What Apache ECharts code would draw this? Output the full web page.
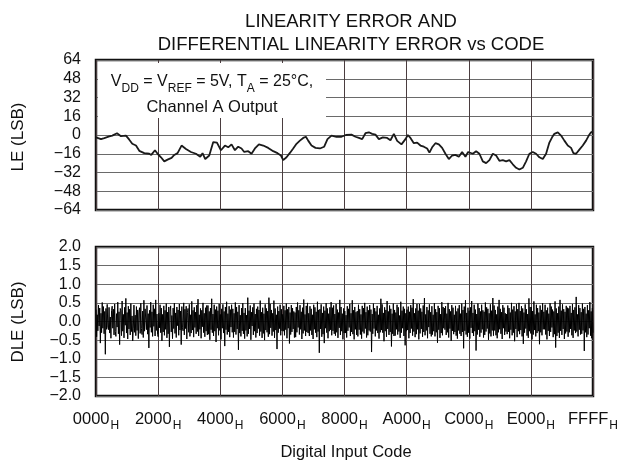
<!DOCTYPE html>
<html>
<head>
<meta charset="utf-8">
<script src="https://cdn.jsdelivr.net/npm/echarts@6/dist/echarts.min.js"></script>
<style>html,body{margin:0;padding:0;background:#fff}#c{width:621px;height:467px}</style>
</head>
<body>
<div id="c"></div>
<script>
// ---- data ----
const xTickLabels = ['0000','2000','4000','6000','8000','A000','C000','E000','FFFF'];
const leTicks = [-64,-48,-32,-16,0,16,32,48,64];
const dleTicks = [-2.0,-1.5,-1.0,-0.5,0.0,0.5,1.0,1.5,2.0];

const leCodes = [0,659,1094,1753,2148,2768,3295,3954,4389,4784,5272,5707,6366,7025,7289,7776,8119,8567,9002,9437,
9964,10320,10755,11282,11862,12521,13180,13747,14050,14406,14933,15460,15948,16475,
17002,17437,17872,18320,18755,19190,19546,20073,20508,20956,21483,22050,22709,23368,23935,24383,24686,25121,25569,26004,
26439,26887,27322,27678,27981,28416,28943,29523,30090,30525,31052,31711,32370,32950,
33688,34215,34663,35098,35533,35981,36416,36851,37299,37827,38393,38828,39276,39711,40278,40805,41122,41464,41912,42347,
42782,43230,43665,43968,44324,44759,45207,45642,46077,46525,46960,47395,47843,48278,48713,49069,
49689,50123,50558,51007,51442,51876,52325,52760,53194,53643,54078,54512,54961,55396,55830,56279,56714,57148,57597,58032,
58466,58915,59350,59784,60140,60443,60892,61326,61761,62210,62645,62948,63304,63739,64187,64622,64978,65281,65535];

const leValues = [-2,-3.5,-2.6,-1.2,-0.5,1.5,-1,-0.5,-4,-7.5,-9,-13.5,-15.5,-16,-17,-13,-16,-19,-22.5,-21,
-19.5,-17,-15.5,-9,-12,-14.5,-16,-18.5,-15.5,-20.5,-17.5,-6,-6.5,-13,
-9,-10.5,-8,-13,-10,-11.5,-14.5,-13.8,-16,-11.5,-8,-9,-11,-13.8,-15.5,-17.5,-21.5,-19,-15.3,-11.5,
-7.5,-4.8,-2.5,-1.5,-4.8,-9,-11,-11.5,-10,-3.5,-0.5,-1.5,-1.5,0,
0.3,-1.5,-2.5,-3.5,1.5,2.3,1,0.3,-3.5,-2,-2.5,-4.5,1,-5,-8,-3.5,0,-2.5,-7,-6.5,
-9,-10,-11.5,-15,-10.5,-7,-8,-11,-16,-20.5,-17.5,-17,-18.5,-14.5,-18.5,-14.5,
-16,-13.8,-16,-22.5,-24,-21.5,-16,-17.5,-22,-21.5,-22.5,-21.5,-25,-28,-29.5,-28,-22.5,-16,-14.5,-16,
-19,-20.5,-16,-6.5,-2,1,2.3,-0.5,-4.8,-9,-11,-15.5,-16,-12.5,-9,-4.8,-0.5,2.3,3];

const dleValues = [
0.32,-0.41,0.18,-0.25,0.44,-0.12,0.36,-0.58,0.22,-0.30,0.51,-0.18,0.40,-0.33,0.27,-0.88,0.35,-0.21,0.46,-0.15,
-0.22,0.38,-0.31,0.12,-0.45,0.29,0.41,-0.18,0.33,-0.36,0.47,-0.27,-0.40,0.21,-0.15,0.52,-0.33,0.26,-0.62,0.35,
0.29,-0.38,0.55,-0.26,0.19,-0.44,0.38,-0.10,0.62,-0.31,0.24,-0.47,0.41,-0.20,0.33,-0.36,0.48,-0.27,0.15,-0.52,
-0.20,0.44,-0.29,0.17,-0.38,0.40,-0.24,0.31,-0.46,0.23,0.37,-0.32,0.49,-0.19,-0.35,0.28,-0.43,0.57,-0.26,0.34,
0.37,-0.22,0.43,-0.34,0.21,-0.71,0.30,-0.16,0.52,-0.29,0.26,-0.40,0.45,-0.13,0.34,-0.39,0.58,-0.24,0.20,-0.35,
-0.41,0.22,-0.17,0.45,-0.30,0.36,-0.52,0.19,-0.28,0.42,-0.37,0.30,-0.21,0.48,-0.44,0.25,-0.33,0.39,-0.68,0.27,
0.42,-0.28,0.16,-0.46,0.36,-0.19,0.49,-0.32,0.23,-0.43,0.39,-0.11,0.31,-0.37,0.47,-0.23,0.28,-0.62,0.40,-0.17,
-0.25,0.50,-0.36,0.33,-0.19,0.41,-0.47,0.24,0.35,-0.29,0.46,-0.40,0.18,-0.31,0.54,-0.23,0.30,-0.42,0.38,-0.16,
0.25,-0.33,0.44,-0.27,0.60,-0.39,0.18,-0.21,0.35,-0.45,0.30,-0.14,0.50,-0.30,0.22,-0.41,0.37,-0.26,0.43,-0.36,
0.43,-0.34,0.27,-0.49,0.36,-0.22,0.61,-0.30,0.20,-0.39,0.45,-0.26,0.32,-0.55,0.40,-0.18,0.29,-0.37,0.47,-0.24,
0.19,-0.48,0.34,-0.18,0.46,-0.31,0.27,-0.66,0.39,-0.22,0.53,-0.35,0.21,-0.28,0.41,-0.42,0.32,-0.15,0.45,-0.29,
0.34,-0.43,0.22,-0.28,0.51,-0.35,0.39,-0.20,0.26,-0.76,0.44,-0.31,0.17,-0.40,0.36,-0.25,0.49,-0.33,0.23,-0.46,
0.36,-0.24,0.17,-0.40,0.64,-0.33,0.29,-0.20,0.43,-0.49,0.25,-0.12,0.38,-0.36,0.48,-0.26,0.20,-0.43,0.34,-0.31,
0.40,-0.19,0.31,-0.38,0.56,-0.27,0.25,-0.44,0.37,-0.32,0.21,-0.50,0.46,-0.23,0.35,-0.29,0.28,-0.41,0.64,-0.34,
0.47,-0.17,0.31,-0.38,0.22,-0.27,0.56,-0.44,0.35,-0.23,0.18,-0.74,0.40,-0.30,0.28,-0.19,0.45,-0.37,0.33,-0.25,
0.19,-0.26,0.42,-0.37,0.30,-0.22,0.48,-0.45,0.33,-0.18,0.39,-0.59,0.24,-0.35,0.44,-0.28,0.36,-0.20,0.27,-0.43,
0.24,-0.42,0.39,-0.29,0.51,-0.16,0.30,-0.35,0.44,-0.21,0.26,-0.47,0.37,-0.32,0.59,-0.24,0.19,-0.39,0.42,-0.28,
0.50,-0.31,0.22,-0.39,0.41,-0.24,0.34,-0.36,0.18,-0.47,0.45,-0.21,0.38,-0.30,0.26,-0.42,0.53,-0.27,0.31,-0.84,
0.33,-0.20,0.46,-0.41,0.23,-0.34,0.40,-0.58,0.29,-0.18,0.49,-0.30,0.35,-0.45,0.21,-0.26,0.38,-0.22,0.52,-0.37,
0.37,-0.25,0.43,-0.33,0.20,-0.38,0.47,-0.29,0.32,-0.44,0.24,-0.17,0.58,-0.36,0.39,-0.26,0.21,-0.48,0.35,-0.31,
0.28,-0.31,0.17,-0.43,0.41,-0.25,0.34,-0.16,0.47,-0.39,0.22,-0.28,0.57,-0.34,0.30,-0.48,0.39,-0.21,0.25,-0.36,
0.28,-0.40,0.45,-0.22,0.33,-0.35,0.19,-0.46,0.42,-0.27,0.36,-0.32,0.50,-0.19,0.25,-0.43,0.40,-0.37,0.30,-0.24,
0.44,-0.27,0.32,-0.82,0.20,-0.33,0.48,-0.19,0.36,-0.40,0.27,-0.24,0.42,-0.31,0.18,-0.46,0.35,-0.29,0.61,-0.23,
0.46,-0.30,0.23,-0.53,0.38,-0.26,0.31,-0.41,0.55,-0.20,0.27,-0.36,0.43,-0.28,0.34,-0.67,0.21,-0.33,0.48,-0.39,
0.31,-0.38,0.24,-0.21,0.45,-0.35,0.38,-0.27,0.16,-0.44,0.53,-0.30,0.29,-0.18,0.40,-0.39,0.34,-0.64,0.22,-0.26,
0.32,-0.23,0.40,-0.45,0.26,-0.31,0.44,-0.19,0.37,-0.38,0.60,-0.27,0.22,-0.42,0.35,-0.34,0.47,-0.21,0.29,-0.48,
0.47,-0.32,0.35,-0.20,0.26,-0.41,0.43,-0.28,0.63,-0.37,0.19,-0.24,0.39,-0.45,0.30,-0.15,0.46,-0.33,0.25,-0.40,
0.41,-0.35,0.18,-0.26,0.49,-0.40,0.33,-0.29,0.25,-0.57,0.42,-0.22,0.36,-0.44,0.20,-0.31,0.52,-0.37,0.39,-0.18,
0.36,-0.22,0.41,-0.36,0.21,-0.29,0.50,-0.43,0.33,-0.19,0.27,-0.52,0.44,-0.25,0.37,-0.34,0.18,-0.28,0.42,-0.38,
0.27,-0.46,0.35,-0.24,0.44,-0.33,0.21,-0.39,0.48,-0.28,0.31,-0.72,0.40,-0.25,0.57,-0.35,0.23,-0.41,0.37,-0.30,
0.29,-0.46,0.38,-0.17,0.55,-0.31,0.23,-0.39,0.45,-0.26,0.32,-0.78,0.20,-0.35,0.48,-0.22,0.36,-0.41,0.27,-0.30,
0.45,-0.21,0.30,-0.43,0.26,-0.36,0.51,-0.27,0.38,-0.19,0.34,-0.49,0.22,-0.32,0.46,-0.40,0.29,-0.24,0.63,-0.38,
0.43,-0.24,0.31,-0.37,0.19,-0.45,0.40,-0.29,0.58,-0.21,0.34,-0.33,0.25,-0.47,0.44,-0.18,0.37,-0.36,0.22,-0.27,
0.20,-0.34,0.43,-0.28,0.36,-0.45,0.24,-0.22,0.50,-0.37,0.32,-0.30,0.41,-0.53,0.27,-0.20,0.47,-0.42,0.33,-0.26,
0.50,-0.34,0.28,-0.23,0.41,-0.40,0.35,-0.60,0.24,-0.30,0.46,-0.19,0.33,-0.38,0.20,-0.44,0.62,-0.26,0.39,-0.32,
0.39,-0.48,0.28,-0.35,0.54,-0.23,0.19,-0.40,0.45,-0.31,0.36,-0.26,0.24,-0.61,0.43,-0.29,0.31,-0.37,0.49,-0.21,
0.26,-0.21,0.45,-0.35,0.30,-0.48,0.37,-0.25,0.21,-0.39,0.49,-0.28,0.40,-0.16,0.32,-0.42,0.27,-0.34,0.54,-0.70,
0.35,-0.39,0.22,-0.30,0.40,-0.44,0.58,-0.25,0.29,-0.36,0.46,-0.20,0.33,-0.47,0.26,-0.32,0.42,-0.27,0.37,-0.41,
0.35,-0.29,0.42,-0.20,0.23,-0.37,0.47,-0.44,0.31,-0.24,0.38,-0.31,0.66,-0.27,0.19,-0.40,0.44,-0.22,0.36,-0.35,
0.25,-0.33,0.48,-0.24,0.34,-0.79,0.39,-0.29,0.21,-0.42,0.44,-0.35,0.30,-0.18,0.52,-0.38,0.27,-0.45,0.36,-0.30];

// ---- build ----
const FONT = 'Liberation Sans';
const TXT = '#111';
const leData = leCodes.map((c, i) => [c, leValues[i]]);
const dleData = dleValues.map((v, i) => [i * 65535 / (dleValues.length - 1), v]);
const minus = s => s.replace('-', '\u2212');

const vGrid = {show: true, lineStyle: {color: '#4a3d3f', width: 1}};
const hGrid = {show: true, lineStyle: {color: '#6a6a6a', width: 1}};

const chart = echarts.init(document.getElementById('c'), null, {renderer: 'canvas'});
chart.setOption({
  animation: false,
  backgroundColor: '#fff',
  title: {
    text: 'LINEARITY ERROR AND\nDIFFERENTIAL LINEARITY ERROR vs CODE',
    left: 346, top: 5, textAlign: 'center',
    textStyle: {fontFamily: FONT, fontSize: 18.5, fontWeight: 'normal', color: TXT, lineHeight: 23}
  },
  grid: [
    {left: 96, right: 28, top: 60, height: 150, show: true, borderColor: '#111', borderWidth: 2.5, containLabel: false},
    {left: 96, right: 28, top: 247, height: 149, show: true, borderColor: '#111', borderWidth: 2.5, containLabel: false}
  ],
  xAxis: [
    {gridIndex: 0, type: 'value', min: 0, max: 65536, interval: 8192,
     axisLine: {show: false}, axisTick: {show: false}, axisLabel: {show: false}, splitLine: vGrid},
    {gridIndex: 1, type: 'value', min: 0, max: 65536, interval: 8192,
     axisLine: {show: false}, axisTick: {show: false}, splitLine: vGrid,
     axisLabel: {
       margin: 15, showMinLabel: true, showMaxLabel: true,
       formatter: v => '{n|' + xTickLabels[Math.round(v / 8192)] + '}{h|H}',
       rich: {
         n: {fontFamily: FONT, fontSize: 16.5, color: TXT, verticalAlign: 'top', lineHeight: 18},
         h: {fontFamily: FONT, fontSize: 12, color: TXT, verticalAlign: 'top', padding: [9, 0, 0, 1], lineHeight: 13}
       }
     }}
  ],
  yAxis: [
    {gridIndex: 0, type: 'value', min: leTicks[0], max: leTicks[leTicks.length - 1], interval: 16,
     axisLine: {show: false}, axisTick: {show: false}, splitLine: hGrid,
     axisLabel: {margin: 15, fontFamily: FONT, fontSize: 16, color: TXT, formatter: v => minus(String(v))}},
    {gridIndex: 1, type: 'value', min: dleTicks[0], max: dleTicks[dleTicks.length - 1], interval: 0.5,
     axisLine: {show: false}, axisTick: {show: false}, splitLine: hGrid,
     axisLabel: {margin: 15, fontFamily: FONT, fontSize: 16, color: TXT, formatter: v => minus(v.toFixed(1))}}
  ],
  series: [
    {type: 'line', xAxisIndex: 0, yAxisIndex: 0, data: leData, showSymbol: false, symbol: 'none',
     lineStyle: {color: '#1a1a1a', width: 1.8}, z: 5},
    {type: 'line', xAxisIndex: 1, yAxisIndex: 1, data: dleData, showSymbol: false, symbol: 'none',
     lineStyle: {color: '#000', width: 1}, z: 5}
  ],
  graphic: [
    {type: 'rect', z: 50, shape: {x: 98, y: 63, width: 228, height: 55}, style: {fill: '#fff'}},
    {type: 'text', z: 51, x: 212, y: 83, style: {
      text: '{t|V}{s|DD}{t| = V}{s|REF}{t| = 5V, T}{s|A}{t| = 25°C,}',
      align: 'center', verticalAlign: 'middle',
      rich: {
        t: {fontFamily: FONT, fontSize: 16, fill: TXT, verticalAlign: 'top', lineHeight: 18},
        s: {fontFamily: FONT, fontSize: 12, fill: TXT, verticalAlign: 'top', padding: [9, 0, 0, 0], lineHeight: 13}
      }}},
    {type: 'text', z: 51, x: 212, y: 107, style: {
      text: 'Channel A Output', align: 'center', verticalAlign: 'middle',
      font: '16.5px "Liberation Sans"', fill: TXT}},
    {type: 'text', x: 18, y: 137, rotation: Math.PI / 2, style: {
      text: 'LE (LSB)', align: 'center', verticalAlign: 'middle', font: '17px "Liberation Sans"', fill: TXT}},
    {type: 'text', x: 18, y: 322, rotation: Math.PI / 2, style: {
      text: 'DLE (LSB)', align: 'center', verticalAlign: 'middle', font: '17px "Liberation Sans"', fill: TXT}},
    {type: 'text', x: 346, y: 452, style: {
      text: 'Digital Input Code', align: 'center', verticalAlign: 'middle', font: '16.5px "Liberation Sans"', fill: TXT}}
  ]
});
</script>
</body>
</html>
